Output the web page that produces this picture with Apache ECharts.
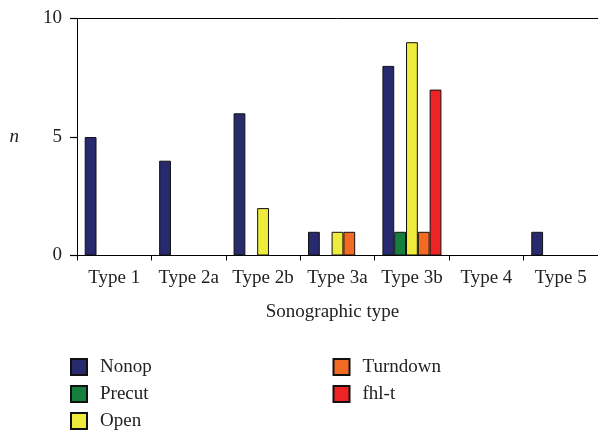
<!DOCTYPE html>
<html><head><meta charset="utf-8">
<script src="https://cdn.jsdelivr.net/npm/echarts@6/dist/echarts.min.js"></script>
<style>html,body{margin:0;padding:0;background:#fff}#c{width:598px;height:431px}</style>
</head><body><div id="c"></div>
<script>
const categories = ['Type 1','Type 2a','Type 2b','Type 3a','Type 3b','Type 4','Type 5'];
const seriesNames = ['Nonop','Precut','Open','Turndown','fhl-t'];
const nonop = [5,4,6,1,8,0,1];
const precut = [0,0,0,0,1,0,0];
const open = [0,0,2,1,9,0,0];
const turndown = [0,0,0,1,1,0,0];
const fhlt = [0,0,0,0,7,0,0];
const yTicks = [0,5,10];
const colors = ['#272a6c','#167f3d','#eeeb3d','#f26b22','#ee2424'];
const values = [nonop, precut, open, turndown, fhlt];
const font = 'Liberation Serif';
const chart = echarts.init(document.getElementById('c'));
const legendText = {fontFamily:font,fontSize:19,color:'#222',padding:[0,0,0,8]};
chart.setOption({
  animation:false,
  grid:{left:77,right:0,top:18.5,bottom:175.5},
  legend:[
    {data:seriesNames.slice(0,3),orient:'vertical',left:70,top:357.5,height:120,padding:0,itemWidth:16,itemHeight:16,itemGap:8,icon:'rect',textStyle:legendText},
    {data:seriesNames.slice(3),orient:'vertical',left:332.5,top:357.5,height:120,padding:0,itemWidth:16,itemHeight:16,itemGap:8,icon:'rect',textStyle:legendText}
  ],
  xAxis:[{
    type:'category',data:categories,
    name:'Sonographic type',nameLocation:'middle',nameGap:47,
    nameTextStyle:{fontFamily:font,fontSize:19,color:'#222',padding:[0,10,0,0]},
    axisLine:{lineStyle:{color:'#000',width:1}},
    axisTick:{show:true,length:5,lineStyle:{color:'#000',width:1}},
    axisLabel:{fontFamily:font,fontSize:19,color:'#222',margin:13,interval:0}
  },{
    type:'category',data:categories,position:'top',
    axisLine:{lineStyle:{color:'#000',width:1}},axisTick:{show:false},axisLabel:{show:false}
  }],
  yAxis:{
    type:'value',min:0,max:10,interval:5,
    name:'n',nameLocation:'middle',nameRotate:0,nameGap:58,
    nameTextStyle:{fontFamily:font,fontSize:19,fontStyle:'italic',color:'#222'},
    axisLine:{show:true,lineStyle:{color:'#000',width:1}},
    axisTick:{show:true,inside:false,length:7,lineStyle:{color:'#000',width:1.2}},
    axisLabel:{fontFamily:font,fontSize:19,color:'#222',margin:15,
      formatter:v=>yTicks.includes(v)?String(v):''},
    splitLine:{show:false}
  },
  series:seriesNames.map((n,i)=>({
    name:n,type:'bar',barWidth:11.8,barGap:'0%',
    data:values[i].map(v=>v===0?'-':v),
    itemStyle:{color:colors[i],borderColor:'#111',borderWidth:1}
  }))
});
</script></body></html>
